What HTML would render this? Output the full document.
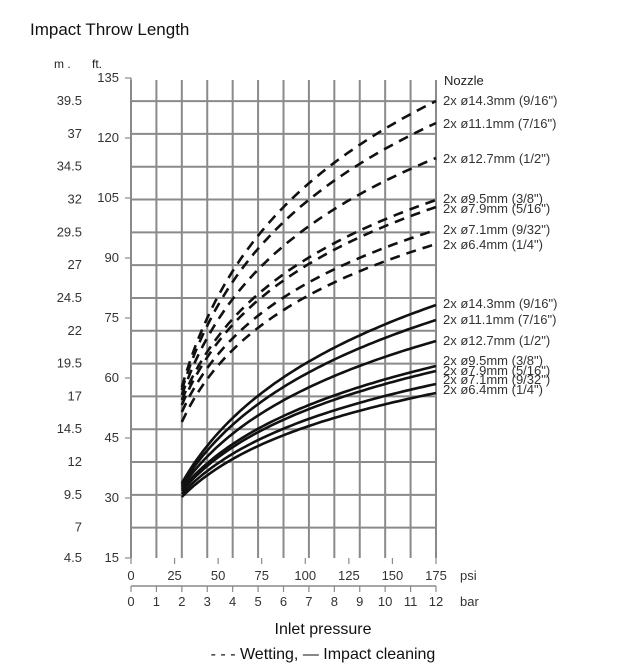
<!DOCTYPE html>
<html><head><meta charset="utf-8"><style>
body{margin:0;background:#fff;width:618px;height:666px;overflow:hidden}
svg{display:block;font-family:"Liberation Sans",Arial,sans-serif}
</style></head><body>
<svg id="s" width="618" height="666" viewBox="0 0 618 666" xmlns="http://www.w3.org/2000/svg">
<text x="30" y="35" font-size="17" fill="#111">Impact Throw Length</text>
<text x="54" y="68" font-size="12" fill="#222">m .</text>
<text x="92" y="68" font-size="12" fill="#222">ft.</text>
<g id="grid" stroke="#8a8a8a" stroke-width="2" fill="none"></g>
<g id="lab" font-size="13" fill="#333"></g>
<g id="curves" fill="none" stroke="#111"></g>
<g font-size="13" fill="#222">
<text x="444" y="85">Nozzle</text>
</g>
<text x="323" y="634" font-size="16" text-anchor="middle" fill="#111">Inlet pressure</text>
<text x="323" y="659" font-size="16" text-anchor="middle" fill="#111">- - -  Wetting,  —  Impact cleaning</text>
</svg>
<script>
var NS="http://www.w3.org/2000/svg";
function el(p,t,a,txt){var e=document.createElementNS(NS,t);for(var k in a)e.setAttribute(k,a[k]);if(txt!=null)e.textContent=txt;document.getElementById(p).appendChild(e);return e;}
var X0=131,X1=436,step=(X1-X0)/12;
function fy(ft){return 558-(ft-15)*4;}
for(var i=0;i<=12;i++){var x=X0+i*step;el("grid","line",{x1:x,x2:x,y1:80,y2:558});}
var ms=[39.5,37,34.5,32,29.5,27,24.5,22,19.5,17,14.5,12,9.5,7];
ms.forEach(function(m){var y=fy(m*3.28084)+1.5;el("grid","line",{x1:X0,x2:X1,y1:y,y2:y});
el("lab","text",{x:82,y:y+4,"text-anchor":"end"},m);});
el("lab","text",{x:82,y:562,"text-anchor":"end"},"4.5");
[135,120,105,90,75,60,45,30,15].forEach(function(f){var y=fy(f);el("grid","line",{x1:125,x2:X0,y1:y,y2:y,"stroke-width":1.2});
el("lab","text",{x:119,y:y+4,"text-anchor":"end"},f);});
el("grid","line",{x1:X0,x2:X0,y1:78,y2:558,"stroke-width":1.5});
[0,25,50,75,100,125,150,175].forEach(function(p){var x=X0+p/175*(X1-X0);el("grid","line",{x1:x,x2:x,y1:558,y2:564,"stroke-width":1.2});
el("lab","text",{x:x,y:580,"text-anchor":"middle"},p);});
el("lab","text",{x:460,y:580},"psi");
el("grid","line",{x1:X0,x2:X1,y1:586,y2:586,"stroke-width":1.5});
for(var i=0;i<=12;i++){var x=X0+i*step;el("grid","line",{x1:x,x2:x,y1:586,y2:592,"stroke-width":1.2});
el("lab","text",{x:x,y:606,"text-anchor":"middle"},i);}
el("lab","text",{x:460,y:606},"bar");
function curve(y0,y1,c,dash){var d="";for(var j=0;j<=60;j++){var t=j/60;var f=Math.log(1+c*t)/Math.log(1+c);
var x=X0+2*step+t*10*step;var y=y0+(y1-y0)*f;d+=(j?"L":"M")+x.toFixed(1)+" "+y.toFixed(1);}
var a={d:d,"stroke-width":2.6};if(dash)a["stroke-dasharray"]="10 7";el("curves","path",a);}
var dS=[387,390,395,400,405,412,422],dE=[101,123,158,200,207,230,244];
var sS=[483,485,487,489,491,494,497],sE=[305,320,341,366,371,384,393];
for(var i=0;i<7;i++){curve(dS[i],dE[i],6,true);curve(sS[i],sE[i],4,false);}
var names=["2x ø14.3mm (9/16\")","2x ø11.1mm (7/16\")","2x ø12.7mm (1/2\")","2x ø9.5mm (3/8\")","2x ø7.9mm (5/16\")","2x ø7.1mm (9/32\")","2x ø6.4mm (1/4\")"];
var dl=[101,124,159,199,209,230,245],sl=[304,320,341,361,371,380,390];
for(var i=0;i<7;i++){el("lab","text",{x:443,y:dl[i]+4,"font-size":13},names[i]);el("lab","text",{x:443,y:sl[i]+4,"font-size":13},names[i]);}
</script>
</body></html>
